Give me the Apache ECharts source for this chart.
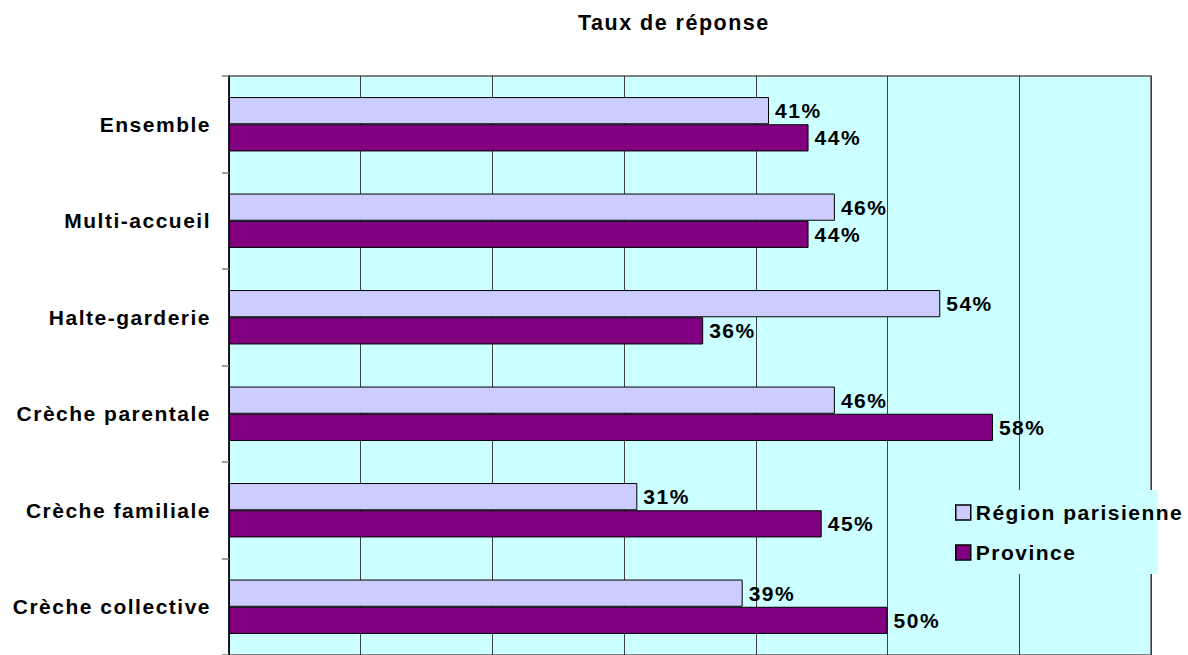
<!DOCTYPE html>
<html>
<head>
<meta charset="utf-8">
<script src="https://cdn.jsdelivr.net/npm/echarts@6/dist/echarts.min.js"></script>
<style>
  html, body { margin: 0; padding: 0; background: #fff; }
  #chart { width: 1188px; height: 655px; }
  /* Excel-style spaced lettering */
  #chart text { letter-spacing: 1.5px; }
</style>
</head>
<body>
<div id="chart"></div>
<script>
// ================= données =================
const categories = ['Ensemble', 'Multi-accueil', 'Halte-garderie', 'Crèche parentale', 'Crèche familiale', 'Crèche collective']
const regionValues = [41, 46, 54, 46, 31, 39]
const provinceValues = [44, 44, 36, 58, 45, 50]
const seriesNames = ['Région parisienne', 'Province']

const FONT = "'Liberation Sans', Arial, sans-serif"

const chart = echarts.init(document.getElementById('chart'), null, { renderer: 'svg' })

const labelStyle = {
  show: true,
  position: 'right',
  distance: 6,
  formatter: '{c}%',
  color: '#000',
  fontFamily: FONT,
  fontWeight: 'bold',
  fontSize: 21,
}

const option = {
  animation: false,
  backgroundColor: '#fff',
  title: {
    text: 'Taux de réponse',
    left: 578,
    top: 12,
    padding: 0,
    textStyle: { fontFamily: FONT, fontWeight: 'bold', fontSize: 21.5, color: '#000' },
  },
  grid: {
    left: 229,
    right: 37,
    top: 76,
    bottom: -6,
    show: true,
    backgroundColor: '#CCFFFF',
    borderColor: '#808080',
    borderWidth: 2,
  },
  legend: {
    orient: 'vertical',
    left: 943,
    top: 490,
    padding: [12, 0, 11, 12],
    itemGap: 19,
    itemWidth: 15,
    itemHeight: 15,
    icon: 'rect',
    backgroundColor: '#CCFFFF',
    data: seriesNames,
    itemStyle: { borderColor: '#000', borderWidth: 1.5 },
    textStyle: { fontFamily: FONT, fontWeight: 'bold', fontSize: 21, color: '#000' },
  },
  xAxis: {
    type: 'value',
    min: 0,
    max: 70,
    interval: 10,
    axisLine: { show: false },
    axisTick: { show: false },
    axisLabel: { show: false },
    splitLine: { show: true, lineStyle: { color: '#404040', width: 1 } },
  },
  yAxis: {
    type: 'category',
    data: categories,
    inverse: true,
    axisLine: { show: true, lineStyle: { color: '#000', width: 1.5 } },
    axisTick: { show: true, length: 7, lineStyle: { color: '#808080', width: 1.5 } },
    axisLabel: {
      margin: 18,
      color: '#000',
      fontFamily: FONT,
      fontWeight: 'bold',
      fontSize: 21,
    },
  },
  series: [
    {
      name: seriesNames[0],
      type: 'bar',
      data: regionValues,
      barGap: '0%',
      barCategoryGap: '43.6%',
      itemStyle: { color: '#CCCCFF', borderColor: '#000', borderWidth: 1 },
      label: labelStyle,
    },
    {
      name: seriesNames[1],
      type: 'bar',
      data: provinceValues,
      barGap: '0%',
      barCategoryGap: '43.6%',
      itemStyle: { color: '#800080', borderColor: '#000', borderWidth: 1 },
      label: labelStyle,
    },
  ],
}

chart.setOption(option)
</script>
</body>
</html>
